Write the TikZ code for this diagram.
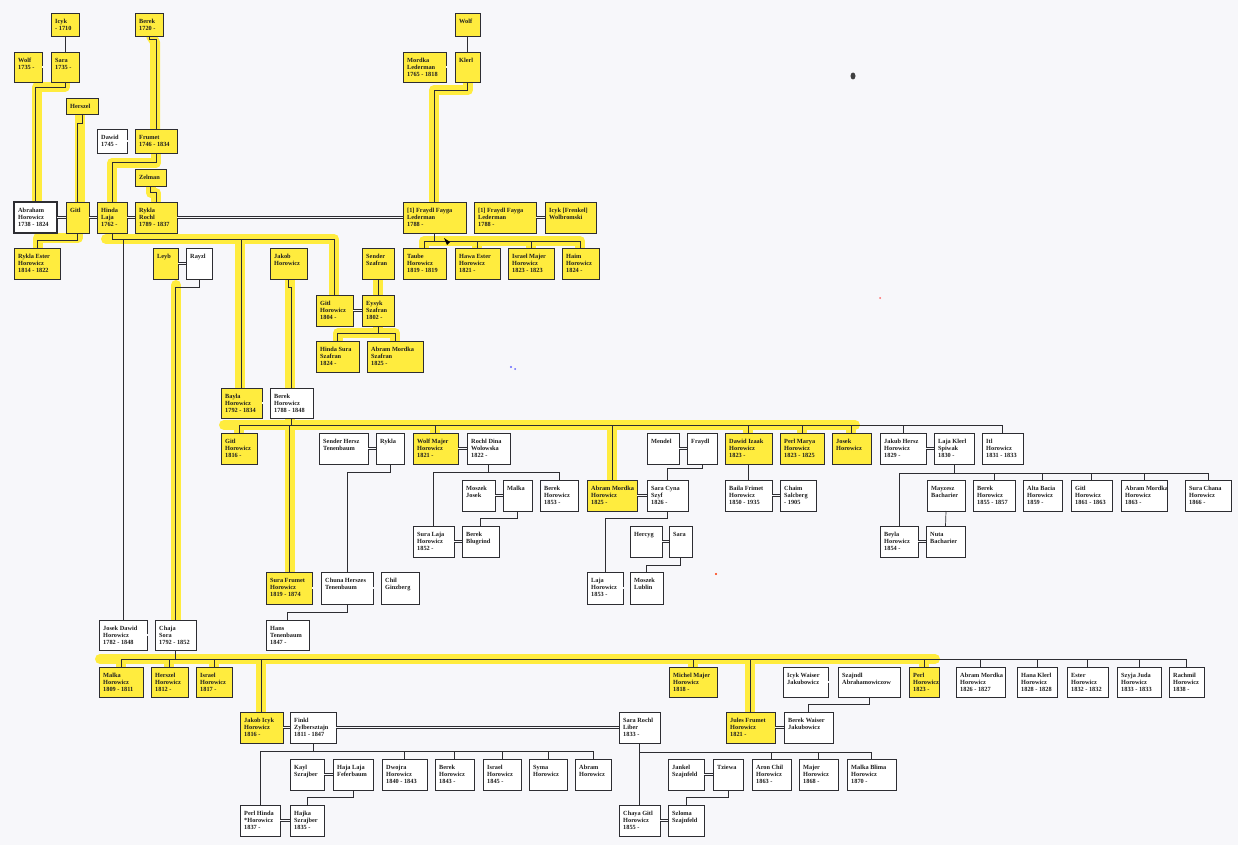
\documentclass[tikz,border=0pt]{standalone}
\usepackage{fontspec}
\setmainfont{Liberation Serif}
\definecolor{hl}{RGB}{255,236,62}
\definecolor{bgc}{RGB}{247,247,250}
\definecolor{linec}{RGB}{45,45,50}
\definecolor{txtc}{RGB}{30,30,30}
\pgfdeclarelayer{hlayer}
\pgfsetlayers{hlayer,main}
\tikzset{
 pbox/.style={draw=linec, line width=0.8pt, fill=white, inner sep=0pt, outer sep=0pt, text=txtc, font=\fontsize{6.3}{7}\selectfont\bfseries},
 ybox/.style={pbox, fill=hl},
 conn/.style={draw=linec, line width=0.7pt},
 spouse/.style={draw=linec, line width=0.55pt, double=bgc, double distance=1.6pt},
 hlstroke/.style={draw=hl, line width=10pt, line cap=round, line join=round},
}
\newcommand\pbx[7]{\node[#1, anchor=north west] (#2) at (#3,#4) {\parbox[c][\dimexpr#6pt-#4pt\relax][t]{\dimexpr#5pt-#3pt\relax}{\vspace*{5.6pt}\hspace*{4.2pt}\begin{tabular}[t]{@{}l@{}}#7\end{tabular}}};}
\newcommand\famline[5]{%
 \draw[conn] (#1.south) -- (#1.south |- 0,#2) coordinate (tmp);
 \draw[conn] (tmp) -- (#3.north |- 0,#2);
 \draw[conn] (tmp) -- (#4.north |- 0,#2);
 \foreach \kk in {#5}{\draw[conn] (\kk.north |- 0,#2) -- (\kk.north);}
}
\begin{document}
\begin{tikzpicture}[x=1pt,y=-1pt]
\useasboundingbox (0,0) rectangle (1238,845);
\begin{pgfonlayer}{hlayer}
\fill[bgc] (0,0) rectangle (1238,845);
\draw[hlstroke] (37,200) -- (37,87) -- (65,87) -- (65,82);
\draw[hlstroke] (80,114) -- (80,202);
\draw[hlstroke] (151,36) -- (155,42) -- (155,129);
\draw[hlstroke] (156,153) -- (156,163) -- (112,163) -- (112,202);
\draw[hlstroke] (151,186) -- (151,193) -- (156,193) -- (156,202);
\draw[hlstroke] (38,248) -- (38,238) -- (78,238) -- (78,233);
\draw[hlstroke] (106,239) -- (334,239) -- (334,295);
\draw[hlstroke] (240,239) -- (240,388);
\draw[hlstroke] (176,285) -- (176,620);
\draw[hlstroke] (290,279) -- (290,388);
\draw[hlstroke] (468,82) -- (468,90) -- (434,90) -- (434,202);
\draw[hlstroke] (424,248) -- (424,241) -- (580,241) -- (580,248);
\draw[hlstroke] (477,241) -- (477,248);
\draw[hlstroke] (531,241) -- (531,248);
\draw[hlstroke] (378,279) -- (378,295);
\draw[hlstroke] (378,326) -- (378,333);
\draw[hlstroke] (338,341) -- (338,333) -- (395,333) -- (395,341);
\draw[hlstroke] (224,425) -- (855,425);
\draw[hlstroke] (239,425) -- (239,433);
\draw[hlstroke] (290,418) -- (290,572);
\draw[hlstroke] (435,425) -- (435,433);
\draw[hlstroke] (612,425) -- (612,480);
\draw[hlstroke] (748,425) -- (748,433);
\draw[hlstroke] (802,425) -- (802,433);
\draw[hlstroke] (851,425) -- (851,433);
\draw[hlstroke] (100,659) -- (935,659);
\draw[hlstroke] (121,659) -- (121,667);
\draw[hlstroke] (169,659) -- (169,667);
\draw[hlstroke] (214,659) -- (214,667);
\draw[hlstroke] (261,659) -- (261,712);
\draw[hlstroke] (693,659) -- (693,667);
\draw[hlstroke] (750,659) -- (750,712);
\draw[hlstroke] (924,659) -- (924,667);
\end{pgfonlayer}
% ---- generation rows ----
\pbx{ybox}{icyk}{51}{13}{79}{36}{Icyk\\- 1710}
\pbx{ybox}{berek0}{135}{13}{163}{36}{Berek\\1720 -}
\pbx{ybox}{wolfT}{455}{13}{480}{36}{Wolf}
\pbx{ybox}{wolf}{14}{52}{42}{82}{Wolf\\1735 -}
\pbx{ybox}{sara}{51}{52}{79}{82}{Sara\\1735 -}
\pbx{ybox}{mordka}{403}{52}{446}{82}{Mordka\\Lederman\\1765 - 1818}
\pbx{ybox}{klerl}{455}{52}{480}{82}{Klerl}
\pbx{ybox}{herszel0}{66}{98}{98}{114}{Herszel}
\pbx{pbox}{dawid}{97}{129}{127}{153}{Dawid\\1745 -}
\pbx{ybox}{frumet}{135}{129}{177}{153}{Frumet\\1746 - 1834}
\pbx{ybox}{zelman}{135}{169}{166}{186}{Zelman}
\pbx{pbox,line width=1.4pt}{abraham}{14}{202}{57}{233}{Abraham\\Horowicz\\1738 - 1824}
\pbx{ybox}{gitl0}{66}{202}{89}{233}{Gitl}
\pbx{ybox}{hinda}{97}{202}{127}{233}{Hinda\\Laja\\1762 -}
\pbx{ybox}{rykla0}{135}{202}{177}{233}{Rykla\\Rochl\\1789 - 1837}
\pbx{ybox}{fraydl1}{403}{202}{466}{233}{{[1]} Fraydl Fayga\\Lederman\\1788 -}
\pbx{ybox}{fraydl2}{474}{202}{536}{233}{{[1]} Fraydl Fayga\\Lederman\\1788 -}
\pbx{ybox}{icykF}{545}{202}{596}{233}{Icyk [Frenkel]\\Wolbromski}
\pbx{ybox}{ryklaE}{14}{248}{60}{279}{Rykla Ester\\Horowicz\\1814 - 1822}
\pbx{ybox}{leyb}{153}{248}{178}{279}{Leyb}
\pbx{pbox}{rayzl}{186}{248}{212}{279}{Rayzl}
\pbx{ybox}{jakob}{270}{248}{307}{279}{Jakob\\Horowicz}
\pbx{ybox}{sender}{362}{248}{394}{279}{Sender\\Szafran}
\pbx{ybox}{taube}{403}{248}{446}{279}{Taube\\Horowicz\\1819 - 1819}
\pbx{ybox}{hawa}{455}{248}{500}{279}{Hawa Ester\\Horowicz\\1821 -}
\pbx{ybox}{israelM}{508}{248}{554}{279}{Israel Majer\\Horowicz\\1823 - 1823}
\pbx{ybox}{haim}{562}{248}{599}{279}{Haim\\Horowicz\\1824 -}
\pbx{ybox}{gitl04}{316}{295}{353}{326}{Gitl\\Horowicz\\1804 -}
\pbx{ybox}{eysyk}{362}{295}{394}{326}{Eysyk\\Szafran\\1802 -}
\pbx{ybox}{hindaS}{316}{341}{359}{372}{Hinda Sura\\Szafran\\1824 -}
\pbx{ybox}{abramS}{367}{341}{423}{372}{Abram Mordka\\Szafran\\1825 -}
\pbx{ybox}{bayla}{221}{388}{262}{418}{Bayla\\Horowicz\\1792 - 1834}
\pbx{pbox}{berekH}{270}{388}{313}{418}{Berek\\Horowicz\\1788 - 1848}
\pbx{ybox}{gitl16}{221}{433}{257}{464}{Gitl\\Horowicz\\1816 -}
\pbx{pbox}{senderH}{319}{433}{368}{464}{Sender Hersz\\Tenenbaum}
\pbx{pbox}{rykla}{376}{433}{404}{464}{Rykla}
\pbx{ybox}{wolfM}{413}{433}{458}{464}{Wolf Majer\\Horowicz\\1821 -}
\pbx{pbox}{rochl}{467}{433}{510}{464}{Rochl Dina\\Wolowska\\1822 -}
\pbx{pbox}{mendel}{647}{433}{679}{464}{Mendel}
\pbx{pbox}{fraydl}{687}{433}{717}{464}{Fraydl}
\pbx{ybox}{dawidI}{725}{433}{772}{464}{Dawid Izaak\\Horowicz\\1823 -}
\pbx{ybox}{perlM}{780}{433}{824}{464}{Perl Marya\\Horowicz\\1823 - 1825}
\pbx{ybox}{josek}{832}{433}{871}{464}{Josek\\Horowicz}
\pbx{pbox}{jakubH}{880}{433}{926}{464}{Jakub Hersz\\Horowicz\\1829 -}
\pbx{pbox}{lajaK}{934}{433}{974}{464}{Laja Klerl\\Spiwak\\1830 -}
\pbx{pbox}{itl}{982}{433}{1023}{464}{Itl\\Horowicz\\1831 - 1833}
\pbx{pbox}{moszekJ}{462}{480}{495}{511}{Moszek\\Josek}
\pbx{pbox}{malka}{503}{480}{532}{511}{Malka}
\pbx{pbox}{berek53}{540}{480}{578}{511}{Berek\\Horowicz\\1853 -}
\pbx{ybox}{abramM}{587}{480}{637}{511}{Abram Mordka\\Horowicz\\1825 -}
\pbx{pbox}{saraC}{647}{480}{688}{511}{Sara Cyna\\Szyf\\1826 -}
\pbx{pbox}{baila}{725}{480}{772}{511}{Baila Frimet\\Horowicz\\1850 - 1935}
\pbx{pbox}{chaim}{780}{480}{816}{511}{Chaim\\Salcberg\\- 1905}
\pbx{pbox}{mayzesz}{927}{480}{965}{511}{Mayzesz\\Bacharier}
\pbx{pbox}{berek55}{973}{480}{1015}{511}{Berek\\Horowicz\\1855 - 1857}
\pbx{pbox}{alta}{1023}{480}{1062}{511}{Alta Bacia\\Horowicz\\1859 -}
\pbx{pbox}{gitl61}{1071}{480}{1112}{511}{Gitl\\Horowicz\\1861 - 1863}
\pbx{pbox}{abram63}{1121}{480}{1167}{511}{Abram Mordka\\Horowicz\\1863 -}
\pbx{pbox}{suraC}{1185}{480}{1231}{511}{Sura Chana\\Horowicz\\1866 -}
\pbx{pbox}{saraL}{413}{526}{454}{557}{Sura Laja\\Horowicz\\1852 -}
\pbx{pbox}{berekB}{462}{526}{499}{557}{Berek\\Blugrind}
\pbx{pbox}{hercyg}{630}{526}{662}{557}{Hercyg}
\pbx{pbox}{sara2}{669}{526}{692}{557}{Sara}
\pbx{pbox}{beyla}{880}{526}{918}{557}{Beyla\\Horowicz\\1854 -}
\pbx{pbox}{nuta}{926}{526}{965}{557}{Nuta\\Bacharier}
\pbx{ybox}{suraF}{266}{572}{312}{604}{Sura Frumet\\Horowicz\\1819 - 1874}
\pbx{pbox}{chuna}{321}{572}{373}{604}{Chuna Herszes\\Tenenbaum}
\pbx{pbox}{chil}{381}{572}{419}{604}{Chil\\Ginzberg}
\pbx{pbox}{laja}{587}{572}{623}{604}{Laja\\Horowicz\\1853 -}
\pbx{pbox}{moszekL}{630}{572}{663}{604}{Moszek\\Lublin}
\pbx{pbox}{jozek}{99}{620}{147}{650}{Josek Dawid\\Horowicz\\1782 - 1848}
\pbx{pbox}{chaja}{155}{620}{196}{650}{Chaja\\Sora\\1792 - 1852}
\pbx{pbox}{hans}{266}{620}{309}{650}{Hans\\Tenenbaum\\1847 -}
\pbx{ybox}{malka09}{99}{667}{143}{697}{Malka\\Horowicz\\1809 - 1811}
\pbx{ybox}{herszel12}{151}{667}{188}{697}{Herszel\\Horowicz\\1812 -}
\pbx{ybox}{israel17}{196}{667}{232}{697}{Israel\\Horowicz\\1817 -}
\pbx{ybox}{michel}{669}{667}{717}{697}{Michel Majer\\Horowicz\\1818 -}
\pbx{pbox}{icykW}{783}{667}{828}{697}{Icyk Waiser\\Jakubowicz}
\pbx{pbox}{szajndl}{838}{667}{900}{697}{Szajndl\\Abrahamowiczow}
\pbx{ybox}{perl23}{909}{667}{939}{697}{Perl\\Horowicz\\1823 -}
\pbx{pbox}{abram26}{956}{667}{1005}{697}{Abram Mordka\\Horowicz\\1826 - 1827}
\pbx{pbox}{hana}{1017}{667}{1057}{697}{Hana Klerl\\Horowicz\\1828 - 1828}
\pbx{pbox}{ester}{1067}{667}{1108}{697}{Ester\\Horowicz\\1832 - 1832}
\pbx{pbox}{szyja}{1117}{667}{1161}{697}{Szyja Juda\\Horowicz\\1833 - 1833}
\pbx{pbox}{rachmil}{1169}{667}{1204}{697}{Rachmil\\Horowicz\\1838 -}
\pbx{ybox}{jakobI}{240}{712}{283}{743}{Jakob Icyk\\Horowicz\\1816 -}
\pbx{pbox}{finkl}{290}{712}{336}{743}{Finkl\\Zylbersztajn\\1811 - 1847}
\pbx{pbox}{saraR}{619}{712}{660}{743}{Sara Rochl\\Liber\\1833 -}
\pbx{ybox}{jules}{726}{712}{775}{743}{Jules Frumet\\Horowicz\\1821 -}
\pbx{pbox}{berekW}{784}{712}{833}{743}{Berek Waiser\\Jakubowicz}
\pbx{pbox}{kayl}{290}{759}{324}{790}{Kayl\\Szrajber}
\pbx{pbox}{haja}{333}{759}{373}{790}{Haja Laja\\Feferbaum}
\pbx{pbox}{dwojra}{382}{759}{427}{790}{Dwojra\\Horowicz\\1840 - 1843}
\pbx{pbox}{berek43}{435}{759}{474}{790}{Berek\\Horowicz\\1843 -}
\pbx{pbox}{israel45}{483}{759}{521}{790}{Israel\\Horowicz\\1845 -}
\pbx{pbox}{syma}{529}{759}{567}{790}{Syma\\Horowicz}
\pbx{pbox}{abramH}{575}{759}{611}{790}{Abram\\Horowicz}
\pbx{pbox}{jankel}{668}{759}{704}{790}{Jankel\\Szajnfeld}
\pbx{pbox}{tziewa}{713}{759}{743}{790}{Tziewa}
\pbx{pbox}{aron}{752}{759}{791}{790}{Aron Chil\\Horowicz\\1863 -}
\pbx{pbox}{majer}{799}{759}{838}{790}{Majer\\Horowicz\\1868 -}
\pbx{pbox}{malkaB}{847}{759}{896}{790}{Malka Blima\\Horowicz\\1870 -}
\pbx{pbox}{perlH}{240}{805}{280}{836}{Perl Hinda\\{*}Horowicz\\1837 -}
\pbx{pbox}{hajka}{290}{805}{324}{836}{Hajka\\Szrajber\\1835 -}
\pbx{pbox}{chaya}{619}{805}{660}{836}{Chaya Gitl\\Horowicz\\1855 -}
\pbx{pbox}{szloma}{668}{805}{704}{836}{Szloma\\Szajnfeld}
% ---- spouses ----
\foreach \a/\b in {wolf/sara, mordka/klerl, dawid/frumet, abraham/gitl0, gitl0/hinda, hinda/rykla0, rykla0/fraydl1, fraydl2/icykF, leyb/rayzl, gitl04/eysyk, bayla/berekH, senderH/rykla, wolfM/rochl, moszekJ/malka, saraL/berekB, abramM/saraC, mendel/fraydl, hercyg/sara2, laja/moszekL, baila/chaim, jakubH/lajaK, beyla/nuta, suraF/chuna, chuna/chil, jozek/chaja, jakobI/finkl, finkl/saraR, kayl/haja, perlH/hajka, chaya/szloma, jankel/tziewa, icykW/szajndl, jules/berekW}
 {\draw[spouse] (\a.east) -- (\b.west);}
% ---- single children ----
\draw[conn] (icyk.south) -- (sara.north);
\draw[conn] (berek0.south) -- ++(0,3) -| (frumet.north);
\draw[conn] (wolfT.south) -- (klerl.north);
\draw[conn] (sara.south) -- ++(0,5) -| (abraham.north);
\draw[conn] (herszel0.south) -- ++(0,9) -| (gitl0.north);
\draw[conn] (frumet.south) -- ++(0,9) -| (hinda.north);
\draw[conn] (zelman.south) -- ++(0,6) -| (rykla0.north);
\draw[conn] (klerl.south) -- ++(0,8) -| (fraydl1.north);
\draw[conn] (gitl0.south) -- ++(0,7) -| (ryklaE.north);
\draw[conn] (rayzl.south) -- ++(0,8) -| (chaja.north);
\draw[conn] (jakob.south) -- ++(0,8) -| (berekH.north);
\draw[conn] (sender.south) -- (eysyk.north);
\draw[conn] (rykla.south) -- ++(0,8) -| (chuna.north);
\draw[conn] (malka.south) -- ++(0,7) -| (berekB.north);
\draw[conn] (saraC.south) -- ++(0,7) -| (laja.north);
\draw[conn] (fraydl.south) -- ++(0,4) -| (saraC.north);
\draw[conn] (sara2.south) -- ++(0,8) -| (moszekL.north);
\draw[conn] (dawidI.south) -- (baila.north);
\draw[conn] (mayzesz.south) -- (nuta.north);
\draw[conn] (chuna.south) -- ++(0,8) -| (hans.north);
\draw[conn] (haja.south) -- ++(0,7) -| (hajka.north);
\draw[conn] (tziewa.south) -- ++(0,7) -| (szloma.north);
\draw[conn] (szajndl.south) -- ++(0,7) -| (berekW.north);
% ---- families ----
\famline{hinda}{239}{jozek}{gitl04}{jozek,bayla,gitl04}
\famline{fraydl1}{241}{taube}{haim}{taube,hawa,israelM,haim}
\famline{eysyk}{333}{hindaS}{abramS}{hindaS,abramS}
\famline{berekH}{425}{gitl16}{itl}{gitl16,suraF,wolfM,abramM,dawidI,perlM,josek,jakubH,itl}
\famline{rochl}{472}{saraL}{berek53}{saraL,berek53}
\famline{lajaK}{473}{beyla}{suraC}{beyla,berek55,alta,gitl61,abram63,suraC}
\famline{chaja}{659}{malka09}{rachmil}{malka09,herszel12,israel17,jakobI,michel,jules,perl23,abram26,hana,ester,szyja,rachmil}
\famline{finkl}{751}{perlH}{abramH}{perlH,dwojra,berek43,israel45,syma,abramH}
\famline{saraR}{752}{chaya}{malkaB}{chaya,aron,majer,malkaB}
% ---- scan specks ----
\fill[black!75] (853,76) ellipse (2.5 and 3.5);
\fill[blue!60] (511,367) circle (1.2);
\fill[blue!60] (515,369) circle (1);
\fill[black] (444,238) -- (450,242) -- (447,245) -- cycle;
\fill[red!60!orange] (716,574) circle (1.2);
\fill[red!60] (880,298) circle (1);
\end{tikzpicture}
\end{document}
